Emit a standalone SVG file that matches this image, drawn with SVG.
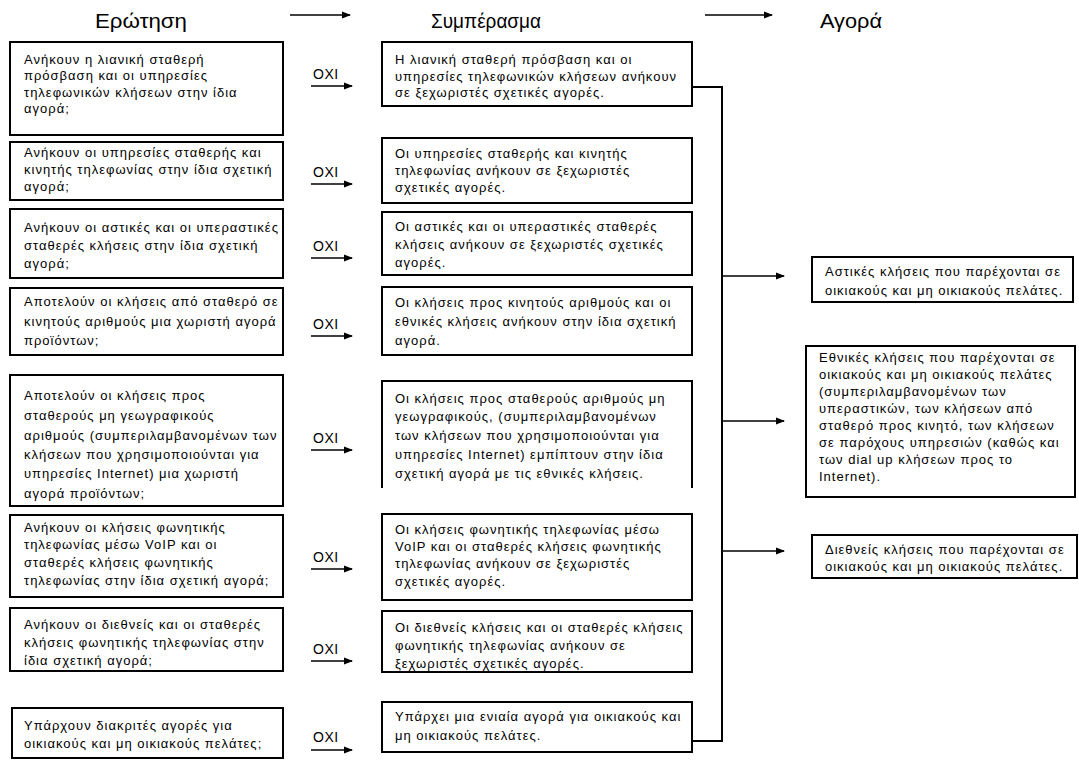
<svg xmlns="http://www.w3.org/2000/svg" width="1079" height="760" viewBox="0 0 1079 760">
<defs>
<marker id="ah" markerWidth="9" markerHeight="9" refX="8" refY="4.5" orient="auto" markerUnits="userSpaceOnUse">
<path d="M0,1 L9,4.5 L0,8 Z" fill="#000"/>
</marker>
<style>
.box{fill:#fff;stroke:#000;stroke-width:2}
.t{font-family:"Liberation Sans",Arial,sans-serif;font-size:13px;fill:#000;letter-spacing:1px}
.h{font-family:"Liberation Sans",Arial,sans-serif;font-size:21px;fill:#000}
.c{fill:none;stroke:#000;stroke-width:2}
.a{fill:none;stroke:#000;stroke-width:1.5;marker-end:url(#ah)}
.o{font-family:"Liberation Sans",Arial,sans-serif;font-size:14px;fill:#000;letter-spacing:0.5px}
</style>
</defs>
<rect width="1079" height="760" fill="#fff"/>

<g id="headers">
<text class="h" x="141" y="28" text-anchor="middle" textLength="92" lengthAdjust="spacingAndGlyphs">Ερώτηση</text>
<text class="h" x="486" y="28" text-anchor="middle" textLength="110" lengthAdjust="spacingAndGlyphs">Συμπέρασμα</text>
<text class="h" x="851" y="28" text-anchor="middle" textLength="62" lengthAdjust="spacingAndGlyphs">Αγορά</text>
</g>

<g id="connectors">
<line class="a" x1="290" y1="15" x2="350" y2="15"/>
<line class="a" x1="705" y1="15" x2="772" y2="15"/>
<line class="a" x1="311" y1="86" x2="352" y2="86"/>
<line class="a" x1="311" y1="184" x2="352" y2="184"/>
<line class="a" x1="311" y1="258" x2="352" y2="258"/>
<line class="a" x1="311" y1="336" x2="352" y2="336"/>
<line class="a" x1="311" y1="450" x2="352" y2="450"/>
<line class="a" x1="311" y1="569" x2="352" y2="569"/>
<line class="a" x1="311" y1="661" x2="352" y2="661"/>
<line class="a" x1="311" y1="750" x2="352" y2="750"/>
<polyline class="c" points="692,87 722,87 722,741 692,741"/>
<line class="a" x1="722" y1="276" x2="784" y2="276"/>
<line class="a" x1="722" y1="421" x2="784" y2="421"/>
<line class="a" x1="722" y1="551" x2="784" y2="551"/>
<text class="o" x="313" y="79">OXI</text>
<text class="o" x="313" y="177">OXI</text>
<text class="o" x="313" y="251">OXI</text>
<text class="o" x="313" y="329">OXI</text>
<text class="o" x="313" y="443">OXI</text>
<text class="o" x="313" y="562">OXI</text>
<text class="o" x="313" y="654">OXI</text>
<text class="o" x="313" y="742">OXI</text>
</g>

<g id="q1"><rect class="box" x="10" y="42" width="273" height="93"/>
<text class="t" x="24" y="64">Ανήκουν η λιανική σταθερή</text>
<text class="t" x="24" y="80">πρόσβαση και οι υπηρεσίες</text>
<text class="t" x="24" y="97">τηλεφωνικών κλήσεων στην ίδια</text>
<text class="t" x="24" y="113">αγορά;</text></g>

<g id="q2"><rect class="box" x="10" y="142" width="273" height="58"/>
<text class="t" x="24" y="157">Ανήκουν οι υπηρεσίες σταθερής και</text>
<text class="t" x="24" y="174">κινητής τηλεφωνίας στην ίδια σχετική</text>
<text class="t" x="24" y="191">αγορά;</text></g>

<g id="q3"><rect class="box" x="10" y="209" width="273" height="69"/>
<text class="t" x="24" y="232">Ανήκουν οι αστικές και οι υπεραστικές</text>
<text class="t" x="24" y="250">σταθερές κλήσεις στην ίδια σχετική</text>
<text class="t" x="24" y="268">αγορά;</text></g>

<g id="q4"><rect class="box" x="10" y="288" width="273" height="67"/>
<text class="t" x="24" y="306">Αποτελούν οι κλήσεις από σταθερό σε</text>
<text class="t" x="24" y="326">κινητούς αριθμούς μια χωριστή αγορά</text>
<text class="t" x="24" y="345">προϊόντων;</text></g>

<g id="q5"><rect class="box" x="10" y="375" width="273" height="131"/>
<text class="t" x="24" y="400">Αποτελούν οι κλήσεις προς</text>
<text class="t" x="24" y="420">σταθερούς μη γεωγραφικούς</text>
<text class="t" x="24" y="440">αριθμούς (συμπεριλαμβανομένων των</text>
<text class="t" x="24" y="459">κλήσεων που χρησιμοποιούνται για</text>
<text class="t" x="24" y="478">υπηρεσίες Internet) μια χωριστή</text>
<text class="t" x="24" y="498">αγορά προϊόντων;</text></g>

<g id="q6"><rect class="box" x="10" y="515" width="273" height="82"/>
<text class="t" x="24" y="532">Ανήκουν οι κλήσεις φωνητικής</text>
<text class="t" x="24" y="549">τηλεφωνίας μέσω VoIP και οι</text>
<text class="t" x="24" y="567">σταθερές κλήσεις φωνητικής</text>
<text class="t" x="24" y="585">τηλεφωνίας στην ίδια σχετική αγορά;</text></g>

<g id="q7"><rect class="box" x="10" y="608" width="273" height="63"/>
<text class="t" x="24" y="629">Ανήκουν οι διεθνείς και οι σταθερές</text>
<text class="t" x="24" y="647">κλήσεις φωνητικής τηλεφωνίας στην</text>
<text class="t" x="24" y="665">ίδια σχετική αγορά;</text></g>

<g id="q8"><rect class="box" x="12" y="708" width="271" height="50"/>
<text class="t" x="24" y="730">Υπάρχουν διακριτές αγορές για</text>
<text class="t" x="24" y="748">οικιακούς και μη οικιακούς πελάτες;</text></g>

<g id="c1"><rect class="box" x="382" y="42" width="310" height="64"/>
<text class="t" x="395" y="64">Η λιανική σταθερή πρόσβαση και οι</text>
<text class="t" x="395" y="81">υπηρεσίες τηλεφωνικών κλήσεων ανήκουν</text>
<text class="t" x="395" y="97">σε ξεχωριστές σχετικές αγορές.</text></g>

<g id="c2"><rect class="box" x="382" y="138" width="310" height="65"/>
<text class="t" x="395" y="158">Οι υπηρεσίες σταθερής και κινητής</text>
<text class="t" x="395" y="175">τηλεφωνίας ανήκουν σε ξεχωριστές</text>
<text class="t" x="395" y="192">σχετικές αγορές.</text></g>

<g id="c3"><rect class="box" x="382" y="212" width="310" height="63"/>
<text class="t" x="395" y="231">Οι αστικές και οι υπεραστικές σταθερές</text>
<text class="t" x="395" y="249">κλήσεις ανήκουν σε ξεχωριστές σχετικές</text>
<text class="t" x="395" y="267">αγορές.</text></g>

<g id="c4"><rect class="box" x="382" y="287" width="310" height="68"/>
<text class="t" x="395" y="307">Οι κλήσεις προς κινητούς αριθμούς και οι</text>
<text class="t" x="395" y="326">εθνικές κλήσεις ανήκουν στην ίδια σχετική</text>
<text class="t" x="395" y="345">αγορά.</text></g>

<g id="c5"><path class="box" d="M382,488 L382,381 L692,381 L692,488"/>
<text class="t" x="395" y="403">Οι κλήσεις προς σταθερούς αριθμούς μη</text>
<text class="t" x="395" y="421">γεωγραφικούς, (συμπεριλαμβανομένων</text>
<text class="t" x="395" y="440">των κλήσεων που χρησιμοποιούνται για</text>
<text class="t" x="395" y="459">υπηρεσίες Internet) εμπίπτουν στην ίδια</text>
<text class="t" x="395" y="478">σχετική αγορά με τις εθνικές κλήσεις.</text></g>

<g id="c6"><rect class="box" x="382" y="514" width="310" height="86"/>
<text class="t" x="395" y="534">Οι κλήσεις φωνητικής τηλεφωνίας μέσω</text>
<text class="t" x="395" y="551">VoIP και οι σταθερές κλήσεις φωνητικής</text>
<text class="t" x="395" y="568">τηλεφωνίας ανήκουν σε ξεχωριστές</text>
<text class="t" x="395" y="586">σχετικές αγορές.</text></g>

<g id="c7"><rect class="box" x="382" y="611" width="310" height="61"/>
<text class="t" x="395" y="632">Οι διεθνείς κλήσεις και οι σταθερές κλήσεις</text>
<text class="t" x="395" y="650">φωνητικής τηλεφωνίας ανήκουν σε</text>
<text class="t" x="395" y="668">ξεχωριστές σχετικές αγορές.</text></g>

<g id="c8"><rect class="box" x="382" y="702" width="310" height="50"/>
<text class="t" x="395" y="721">Υπάρχει μια ενιαία αγορά για οικιακούς και</text>
<text class="t" x="395" y="740">μη οικιακούς πελάτες.</text></g>

<g id="m1"><rect class="box" x="812" y="257" width="261" height="45"/>
<text class="t" x="825" y="276">Αστικές κλήσεις που παρέχονται σε</text>
<text class="t" x="825" y="295">οικιακούς και μη οικιακούς πελάτες.</text></g>

<g id="m2"><rect class="box" x="806" y="346" width="269" height="151"/>
<text class="t" x="819" y="362">Εθνικές κλήσεις που παρέχονται σε</text>
<text class="t" x="819" y="379">οικιακούς και μη οικιακούς πελάτες</text>
<text class="t" x="819" y="396">(συμπεριλαμβανομένων των</text>
<text class="t" x="819" y="413">υπεραστικών, των κλήσεων από</text>
<text class="t" x="819" y="430">σταθερό προς κινητό, των κλήσεων</text>
<text class="t" x="819" y="447">σε παρόχους υπηρεσιών (καθώς και</text>
<text class="t" x="819" y="464">των dial up κλήσεων προς το</text>
<text class="t" x="819" y="481">Internet).</text></g>

<g id="m3"><rect class="box" x="812" y="535" width="265" height="43"/>
<text class="t" x="825" y="554">Διεθνείς κλήσεις που παρέχονται σε</text>
<text class="t" x="825" y="571">οικιακούς και μη οικιακούς πελάτες.</text></g>
</svg>
